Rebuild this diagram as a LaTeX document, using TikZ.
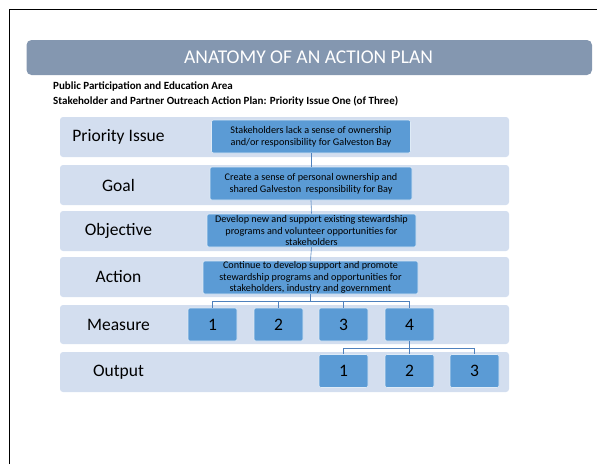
\documentclass[tikz,border=0pt]{standalone}
\usepackage{fontspec}
\setmainfont{Carlito}
\usepackage{tikz}

\definecolor{titlebar}{RGB}{132,151,176}
\definecolor{rowfill}{RGB}{211,222,239}
\definecolor{boxfill}{RGB}{91,155,213}
\definecolor{linkblue}{RGB}{79,129,189}

\begin{document}
\begin{tikzpicture}[x=1pt, y=-1pt,
  row/.style={fill=rowfill, rounded corners=3pt},
  rowlabel/.style={font=\fontsize{17.5}{20}\selectfont, anchor=center},
  item/.style={draw=white!80!boxfill, line width=0.6pt, fill=boxfill, rounded corners=2pt,
    align=center, inner sep=0pt, font=\fontsize{10.2}{11.7}\selectfont},
  num/.style={item, minimum width=49pt, minimum height=33pt, font=\fontsize{17.5}{20}\selectfont},
  link/.style={draw=linkblue, line width=0.6pt}]
  \useasboundingbox (0,0) rectangle (597,464);

  % slide frame
  \draw[line width=1.8pt] (9.5,464) -- (9.5,9.5) -- (597,9.5);

  % title bar
  \fill[titlebar, rounded corners=5pt] (26.5,40) rectangle (592,75);
  \node[white, font=\fontsize{19.5}{22}\selectfont] (title) at (308.5,57.5) {ANATOMY OF AN ACTION PLAN};
  \node[anchor=west, inner sep=0pt, font=\fontsize{11}{13}\selectfont\bfseries] (area) at (53,86) {Public Participation and Education Area};
  \node[anchor=west, inner sep=0pt, font=\fontsize{11}{13}\selectfont\bfseries] (plan) at (53,101) {Stakeholder and Partner Outreach Action Plan: Priority Issue One (of Three)};

  % rows
  \fill[row] (60,117) rectangle (509,157);
  \fill[row] (60,165) rectangle (509,205);
  \fill[row] (60,211) rectangle (509,251);
  \fill[row] (60,257) rectangle (509,297);
  \fill[row] (60,305) rectangle (509,344);
  \fill[row] (60,352) rectangle (509,392);

  \node[rowlabel] (lissue) at (118.5,137) {Priority Issue};
  \node[rowlabel] (lgoal) at (118.5,185) {Goal};
  \node[rowlabel] (lobj) at (118.5,231) {Objective};
  \node[rowlabel] (lact) at (118.5,277) {Action};
  \node[rowlabel] (lmeas) at (118.5,324.5) {Measure};
  \node[rowlabel] (lout) at (118.5,372) {Output};

  % text boxes
  \node[item, minimum width=199pt, minimum height=33pt] (issue) at (311,136.5)
    {Stakeholders lack a sense of ownership\\and/or responsibility for Galveston Bay};
  \node[item, minimum width=202pt, minimum height=33pt] (goal) at (311,183.5)
    {Create a sense of personal ownership and\\shared Galveston\ \ responsibility for Bay};
  \node[item, minimum width=209pt, minimum height=33pt] (obj) at (311.5,230.5)
    {Develop new and support existing stewardship\\programs and volunteer opportunities for\\stakeholders};
  \node[item, minimum width=215pt, minimum height=33pt] (act) at (310.5,277.5)
    {Continue to develop support and promote\\stewardship programs and opportunities for\\stakeholders, industry and government};

  % measures and outputs
  \foreach \n/\x in {1/212.5, 2/278.5, 3/343.5, 4/409.5}
    \node[num] (m\n) at (\x,324.5) {\n};
  \foreach \n/\x in {1/343.5, 2/409.5, 3/474.5}
    \node[num] (o\n) at (\x,371) {\n};

  % connectors
  \draw[link] (issue.south) -- (goal.north);
  \draw[link] (goal.south) -- (obj.north);
  \draw[link] (obj.south) -- (act.north);
  \foreach \n in {1,...,4}
    \draw[link] (act.south) -- ++(0,7) -| (m\n.north);
  \foreach \n in {1,...,3}
    \draw[link] (m4.south) -- ++(0,7) -| (o\n.north);
\end{tikzpicture}
\end{document}
